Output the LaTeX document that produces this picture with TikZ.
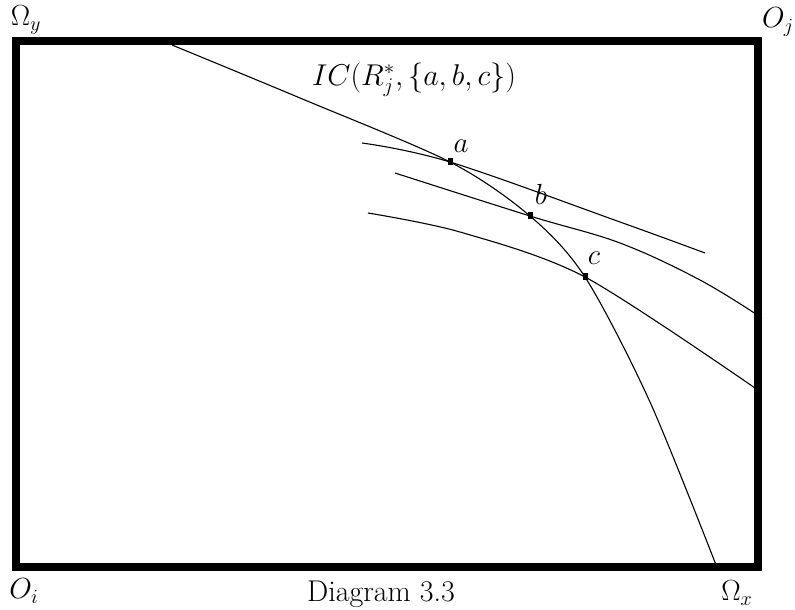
\documentclass[tikz,border=0pt]{standalone}
\usetikzlibrary{calc}
\begin{document}
\begin{tikzpicture}[x=1pt,y=-1pt,
  lbl/.style={inner sep=0pt,font=\fontsize{20}{24}\selectfont,scale=1.4},
  big/.style={inner sep=0pt,font=\fontsize{20}{24}\selectfont,scale=1.45},
  curve/.style={line width=1.1pt},
  mk/.style={fill=black}]
\useasboundingbox (0,0) rectangle (795,610);
% box
\draw[line width=8pt] (16,41) rectangle (758,567);
% points
\coordinate (a) at (450,162);
\coordinate (b) at (530,216);
\coordinate (c) at (585,277);
% IC curve
\draw[curve] plot[smooth,tension=0.5] coordinates {(172,45) (300,98) (a) (b) (c) (650,402) (718,570)};
% indifference curves
\draw[curve] plot[smooth,tension=0.6] coordinates {(362,143) (a) (620,222) (705,253)};
\draw[curve] plot[smooth,tension=0.6] coordinates {(395,173) (b) (620,243) (700,280) (762,318)};
\draw[curve] plot[smooth,tension=0.5] coordinates {(368,213) (460,232) (c) (755,388)};
% markers
\foreach \p in {a,b,c} \fill[mk] ($(\p)+(-2.5,-4)$) rectangle ($(\p)+(2.5,3)$);
% labels
\node[lbl] (la) at (461,146) {$a$};
\node[lbl] (lb) at (541,194) {$b$};
\node[lbl] (lc) at (594,258) {$c$};
\node[big] (ic) at (414,80) {$IC(R_j^*,\{a,b,c\})$};
\node[lbl] (oy) at (26,20) {$\Omega_y$};
\node[lbl] (oj) at (778,22) {$O_j$};
\node[lbl] (oi) at (24,591) {$O_i$};
\node[lbl] (ox) at (737,593) {$\Omega_x$};
\node[inner sep=0pt,font=\fontsize{20}{24}\selectfont,scale=1.5] (cap) at (381,594) {Diagram 3.3};
\end{tikzpicture}
\end{document}
